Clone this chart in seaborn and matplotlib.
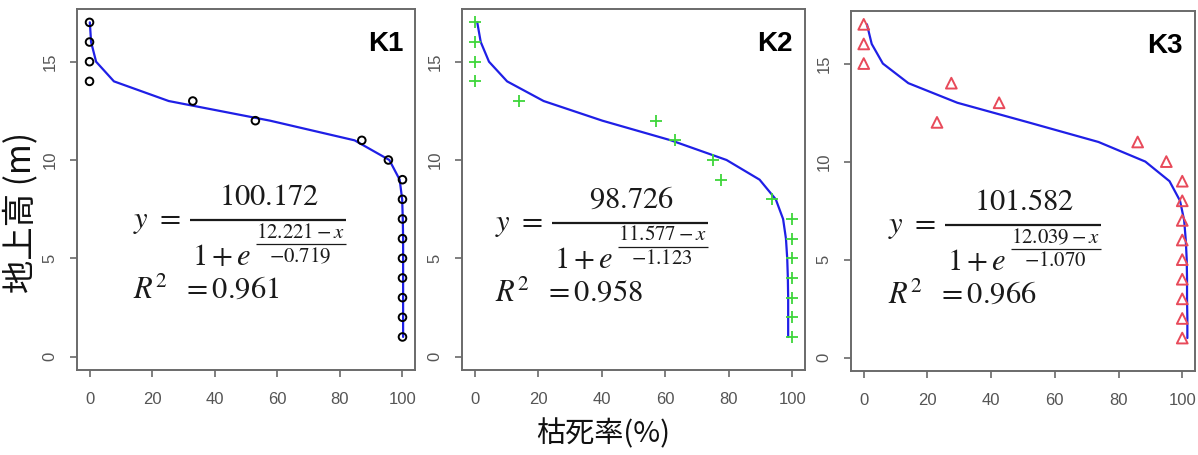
import matplotlib
matplotlib.use("Agg")
import matplotlib.pyplot as plt
import seaborn as sns
import pandas as pd
import numpy as np

# ---------------- data ----------------
heights = [17, 16, 15, 14, 13, 12, 11, 10, 9, 8, 7, 6, 5, 4, 3, 2, 1]

k1_points = [0, 0, 0, 0, 33, 53, 87, 95.5, 100, 100, 100, 100, 100, 100, 100, 100, 100]
k2_points = [0, 0, 0, 0, 14, 57, 63, 75, 77.5, 93.5, 100, 100, 100, 100, 100, 100, 100]
k3_points = [0, 0, 0, 27.5, 42.5, 23, 86, 95, 100, 100, 100, 100, 100, 100, 100, 100, 100]

k1_line = [0.1, 0.5, 2.1, 7.8, 25.3, 57.7, 84.7, 95.8, 99.1, 99.9, 100.1, 100.2, 100.2, 100.2, 100.2, 100.2, 100.2]
k2_line = [0.8, 1.9, 4.5, 10.2, 21.7, 40.2, 61.8, 79.3, 89.7, 94.8, 97.1, 98.0, 98.4, 98.6, 98.7, 98.7, 98.7]
k3_line = [1.0, 2.5, 6.0, 14.0, 29.4, 51.7, 73.7, 88.4, 96.0, 99.3, 100.6, 101.1, 101.4, 101.5, 101.5, 101.6, 101.6]

panel_names = ["K1", "K2", "K3"]
numerators = ["100.172", "98.726", "101.582"]
centers = ["12.221", "11.577", "12.039"]
scales = ["-0.719", "-1.123", "-1.070"]
r2_values = ["0.961", "0.958", "0.966"]

x_ticks = [0, 20, 40, 60, 80, 100]
y_ticks = [0, 5, 10, 15]
y_label = "地上高 (m)"
x_label = "枯死率(%)"

# ---------------- style ----------------
sns.set_theme(style="white")
plt.rcParams["font.family"] = ["Liberation Sans", "DejaVu Sans"]
plt.rcParams["mathtext.fontset"] = "stix"

FW, FH = 1198, 455
fig = plt.figure(figsize=(FW / 100, FH / 100), dpi=100)

# axes boxes in pixels: left, top, width, height
boxes_px = [(77, 9, 338, 361), (462, 9, 343, 361), (851, 11, 344, 360)]
# equation anchor (left of "y", fraction-bar height) in pixels
eq_anchor_px = [(133, 220), (495, 223), (888, 225)]

point_sets = [k1_points, k2_points, k3_points]
line_sets = [k1_line, k2_line, k3_line]
markers = ["o", "+", "^"]
marker_colors = ["black", "#3ed63a", "#e84a5a"]
marker_sizes = [30, 80, 60]

line_color = "#1f1fe6"
frame_color = "#6a6a6a"
tick_color = "#555555"
eq_color = "#1a1a1a"

for i in range(3):
    L, T, W, H = boxes_px[i]
    ax = fig.add_axes([L / FW, (FH - T - H) / FH, W / FW, H / FH])
    dfp = pd.DataFrame({"mort": point_sets[i], "h": heights})
    dfl = pd.DataFrame({"mort": line_sets[i], "h": heights})
    sns.lineplot(data=dfl, x="mort", y="h", sort=False, estimator=None,
                 color=line_color, linewidth=1.6, ax=ax, zorder=2)
    if markers[i] == "+":
        sns.scatterplot(data=dfp, x="mort", y="h", marker="+", s=marker_sizes[i],
                        color=marker_colors[i], linewidth=1.3, ax=ax, zorder=3)
    else:
        sns.scatterplot(data=dfp, x="mort", y="h", marker=markers[i], s=marker_sizes[i],
                        facecolor="none", edgecolor=marker_colors[i], linewidth=1.4,
                        ax=ax, zorder=3)
    ax.set_xlim(-4, 104)
    ax.set_ylim(-0.68, 17.68)
    ax.set_xticks(x_ticks)
    ax.set_yticks(y_ticks)
    ax.set_xticklabels([str(t) for t in x_ticks])
    ax.set_yticklabels([str(t) for t in y_ticks], rotation=90, va="center")
    ax.set_xlabel("")
    ax.set_ylabel("")
    for sp in ax.spines.values():
        sp.set_color(frame_color)
        sp.set_linewidth(1.4)
    ax.tick_params(axis="x", direction="out", length=5, width=1.2,
                   color=frame_color, labelcolor=tick_color, labelsize=12, pad=11,
                   bottom=True)
    ax.tick_params(axis="y", direction="out", length=5, width=1.2,
                   color=frame_color, labelcolor=tick_color, labelsize=12, pad=9,
                   left=True)

    ax.text(0.965, 0.94, panel_names[i], transform=ax.transAxes, ha="right", va="top",
            fontsize=20, fontweight="bold", family=["Liberation Sans"], color="black")

    # ---- equation, laid out piece by piece (pixel offsets from anchor) ----
    ax0, ay0 = eq_anchor_px[i]

    def fx(dx):
        return (ax0 + dx - L) / W

    def fy(dy):
        return (T + H - (ay0 + dy)) / H

    def put(dx, dy, s, size, ha="left"):
        ax.text(fx(dx), fy(dy), s, transform=ax.transAxes, ha=ha, va="center",
                fontsize=size, color=eq_color, clip_on=False)

    def bar(x1, x2, dy, lw):
        ax.plot([fx(x1), fx(x2)], [fy(dy), fy(dy)], transform=ax.transAxes,
                color=eq_color, linewidth=lw, clip_on=False, solid_capstyle="butt")

    put(0, 1, r"$y\ =$", 22)
    bar(57, 213, 0, 1.6)
    put(136, -23, r"$%s$" % numerators[i], 22, ha="center")
    put(59, 37, r"$1+e$", 22)
    put(168, 12, r"$%s-x$" % centers[i], 15, ha="center")
    bar(123, 213, 24, 0.9)
    put(167, 36, r"$%s$" % scales[i], 15, ha="center")
    put(0, 70, r"$R^2\ \ =0.%s$" % r2_values[i][2:], 22)

fig.text(21 / FW, 0.534, y_label, rotation=90, ha="center", va="center",
         fontsize=24, family=["Noto Sans CJK JP", "DejaVu Sans"], color="#111111")
fig.text(603 / FW, 0.046, x_label, ha="center", va="center",
         fontsize=21, family=["Noto Sans CJK JP", "DejaVu Sans"], color="#111111")

fig.savefig("out.png", dpi=100)
